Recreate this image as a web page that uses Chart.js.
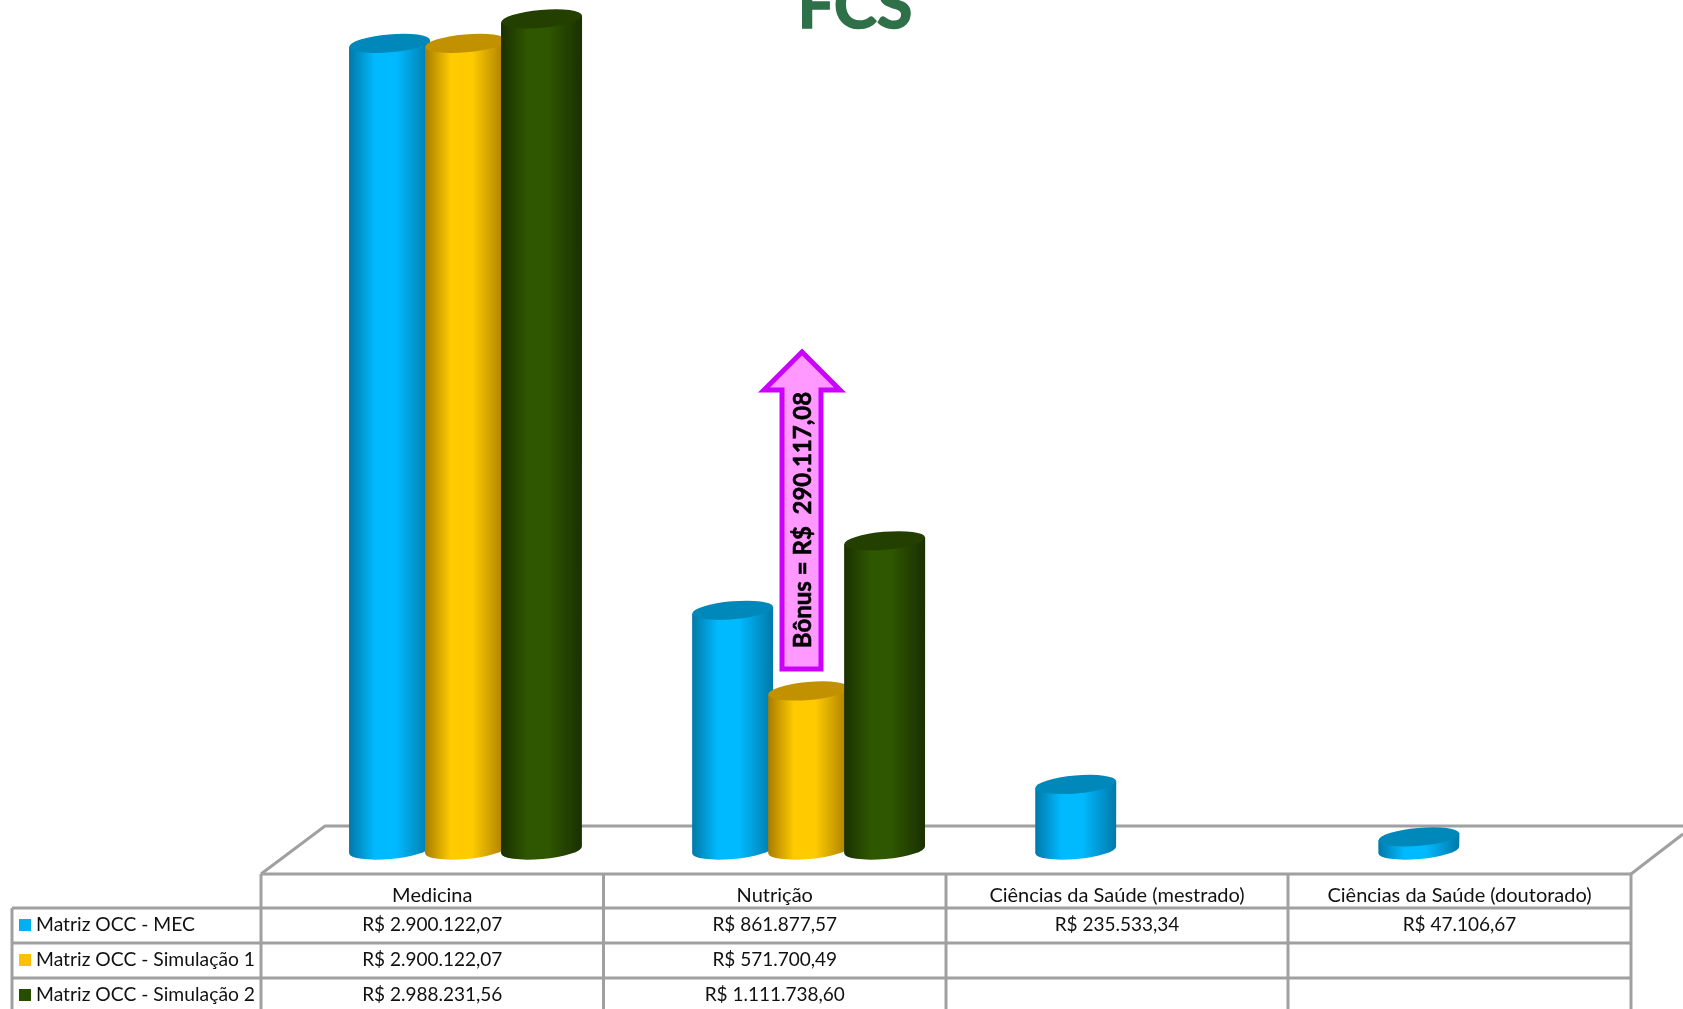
<!DOCTYPE html>
<html lang="pt-BR">
<head>
<meta charset="utf-8">
<title>FCS</title>
<style>
html,body{margin:0;padding:0;background:#fff;overflow:hidden}
canvas{display:block}
</style>
<script src="https://cdn.jsdelivr.net/npm/chart.js@4/dist/chart.umd.min.js"></script>
</head>
<body>
<canvas id="c" width="1683" height="1009"></canvas>
<script>
const chartTitle = "FCS";
const categories = ["Medicina", "Nutrição", "Ciências da Saúde (mestrado)", "Ciências da Saúde (doutorado)"];
const seriesNames = ["Matriz OCC - MEC", "Matriz OCC - Simulação 1", "Matriz OCC - Simulação 2"];
const matrizMec = [2900122.07, 861877.57, 235533.34, 47106.67];
const simulacao1 = [2900122.07, 571700.49, null, null];
const simulacao2 = [2988231.56, 1111738.60, null, null];
const seriesColors = ["#00B0F0", "#FFC000", "#264D00"];
const bonusLabel = "Bônus = R$  290.117,08";

// Shades per series: side edge, side centre, top ellipse
const shades = [
  {edge: "#0079A8", mid: "#00BAFF", top: "#0088BB"},
  {edge: "#A87C00", mid: "#FFCB00", top: "#C29100"},
  {edge: "#1A3000", mid: "#2F5600", top: "#234000"}
];

const FONT = "Lato, Carlito, Calibri, sans-serif";
const LINE = "#A0A0A0";
const colX = [261, 603.5, 946, 1288, 1631];
const rowY = [874, 908, 943, 978];
const tableLeft = 12;

function brl(v) {
  if (v === null || v === undefined) return "";
  return "R$ " + v.toLocaleString("pt-BR", {minimumFractionDigits: 2, maximumFractionDigits: 2});
}

function drawLine(ctx, pts, w) {
  ctx.beginPath();
  pts.forEach((p, i) => i ? ctx.lineTo(p[0], p[1]) : ctx.moveTo(p[0], p[1]));
  ctx.lineWidth = w;
  ctx.strokeStyle = LINE;
  ctx.lineJoin = "miter";
  ctx.stroke();
}

function squeezedText(ctx, text, x, y, squeeze) {
  ctx.save();
  ctx.translate(x, y);
  ctx.scale(squeeze, 1);
  ctx.fillText(text, 0, 0);
  ctx.restore();
}

function drawCylinder(ctx, bar, shade) {
  const cx = bar.x, rx = bar.width / 2, ry = 9, rot = -5 * Math.PI / 180;
  const yt = bar.y, yb = bar.base;
  const dy = rx * Math.sin(rot);
  const g = ctx.createLinearGradient(cx - rx, 0, cx + rx, 0);
  g.addColorStop(0, shade.edge);
  g.addColorStop(0.32, shade.mid);
  g.addColorStop(0.58, shade.mid);
  g.addColorStop(1, shade.edge);
  ctx.save();
  ctx.beginPath();
  ctx.moveTo(cx - rx, yt - dy);
  ctx.lineTo(cx - rx, yb - dy);
  ctx.ellipse(cx, yb, rx, ry, rot, Math.PI, 0, true);
  ctx.lineTo(cx + rx, yt + dy);
  ctx.closePath();
  ctx.fillStyle = g;
  ctx.fill();
  ctx.beginPath();
  ctx.ellipse(cx, yt, rx, ry, rot, 0, Math.PI * 2);
  ctx.fillStyle = shade.top;
  ctx.fill();
  ctx.restore();
}

const scenePlugin = {
  id: "scene",
  beforeDatasetsDraw(chart) {
    const ctx = chart.ctx;
    // Floor of the 3D plot
    drawLine(ctx, [[261, 874], [325, 826], [1683, 826]], 3);
    drawLine(ctx, [[1631, 874], [1683, 834]], 3);
    // Cylinders, first series at the back
    chart.data.datasets.forEach((ds, i) => {
      chart.getDatasetMeta(i).data.forEach((bar, k) => {
        if (ds.data[k] !== null) drawCylinder(ctx, bar, shades[i]);
      });
    });
  },
  beforeDatasetDraw() { return false; },
  afterDatasetsDraw(chart) {
    const ctx = chart.ctx;
    // Title (cut by the top edge, as in the reference)
    ctx.save();
    ctx.fillStyle = "#2E7048";
    ctx.strokeStyle = "#2E7048";
    ctx.lineWidth = 1.5;
    ctx.font = "bold 65px " + FONT;
    ctx.textAlign = "center";
    ctx.textBaseline = "alphabetic";
    ctx.fillText(chartTitle, 855, 28);
    ctx.strokeText(chartTitle, 855, 28);
    ctx.restore();

    // Data table grid
    rowY.forEach((y, i) => drawLine(ctx, [[i === 0 ? colX[0] : tableLeft, y], [colX[4], y]], 3));
    colX.forEach(cx => drawLine(ctx, [[cx, rowY[0]], [cx, 1009]], 3));
    drawLine(ctx, [[tableLeft, rowY[1]], [tableLeft, 1009]], 3);

    // Table text
    ctx.save();
    ctx.fillStyle = "#111";
    ctx.font = "20px " + FONT;
    ctx.textBaseline = "middle";
    ctx.textAlign = "center";
    const textY = [896, 925, 960, 995];
    const mid = k => (colX[k] + colX[k + 1]) / 2;
    categories.forEach((c, k) => squeezedText(ctx, c, mid(k), textY[0], 1));
    chart.data.datasets.forEach((ds, i) => {
      ds.data.forEach((v, k) => {
        if (v !== null) squeezedText(ctx, brl(v), mid(k), textY[i + 1], 0.95);
      });
    });
    ctx.textAlign = "left";
    chart.data.datasets.forEach((ds, i) => {
      ctx.fillStyle = ds.backgroundColor;
      ctx.fillRect(19, textY[i + 1] - 6, 12, 12);
      ctx.fillStyle = "#111";
      squeezedText(ctx, ds.label, 36, textY[i + 1], 0.965);
    });
    ctx.restore();

    // Bonus arrow
    ctx.save();
    ctx.beginPath();
    [[802, 352], [840, 390], [821, 390], [821, 669], [782, 669], [782, 390], [764, 390]]
      .forEach((p, i) => i ? ctx.lineTo(p[0], p[1]) : ctx.moveTo(p[0], p[1]));
    ctx.closePath();
    ctx.fillStyle = "#FF99FF";
    ctx.fill();
    ctx.lineWidth = 5;
    ctx.strokeStyle = "#CC00FF";
    ctx.lineJoin = "miter";
    ctx.miterLimit = 10;
    ctx.stroke();
    ctx.translate(803, 520);
    ctx.rotate(-Math.PI / 2);
    ctx.fillStyle = "#000";
    ctx.strokeStyle = "#000";
    ctx.lineWidth = 0.6;
    ctx.font = "bold 24px " + FONT;
    ctx.textAlign = "center";
    ctx.textBaseline = "middle";
    ctx.fillText(bonusLabel, 0, 0);
    ctx.strokeText(bonusLabel, 0, 0);
    ctx.restore();
  }
};

new Chart(document.getElementById("c"), {
  type: "bar",
  data: {
    labels: categories,
    datasets: [matrizMec, simulacao1, simulacao2].map((values, i) => ({
      label: seriesNames[i],
      data: values,
      backgroundColor: seriesColors[i],
      categoryPercentage: 0.6645,
      barPercentage: 1.066
    }))
  },
  options: {
    responsive: false,
    animation: false,
    layout: {padding: {left: 294, right: 16.6, top: 0, bottom: 159}},
    plugins: {legend: {display: false}, title: {display: false}, tooltip: {enabled: false}},
    scales: {
      x: {display: false, grid: {display: false}},
      y: {display: false, min: 0, max: 3056000, grid: {display: false}}
    }
  },
  plugins: [scenePlugin]
});
</script>
</body>
</html>
